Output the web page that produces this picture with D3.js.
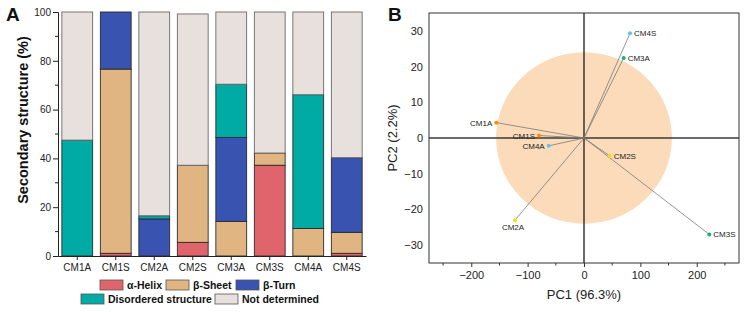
<!DOCTYPE html>
<html>
<head>
<meta charset="utf-8">
<script src="https://cdn.jsdelivr.net/npm/d3@7"></script>
<style>
  html, body { margin: 0; padding: 0; background: #fff; }
  svg { display: block; font-family: "Liberation Sans", Arial, Helvetica, sans-serif; }
</style>
</head>
<body>
<svg id="chart" width="744" height="312"></svg>
<script>
// ---------- DATA: Panel A (stacked bars, %) ----------
const categories = ["CM1A", "CM1S", "CM2A", "CM2S", "CM3A", "CM3S", "CM4A", "CM4S"];
const seriesNames = ["α-Helix", "β-Sheet", "β-Turn", "Disordered structure", "Not determined"];
const alphaHelix   = [0,    1.1,  0,    5.6,  0,    37.2, 0,    1.1];
const betaSheet    = [0,    75.5, 0,    31.6, 14.2, 5.0,  11.3, 8.6];
const betaTurn     = [0,    23.4, 15.2, 0,    34.4, 0,    0,    30.6];
const disordered   = [47.5, 0,    1.3,  0,    21.8, 0,    54.8, 0];
const notDetermined= [52.5, 0,    83.5, 62.0, 29.6, 57.8, 33.9, 59.7];
const yTicksA = [0, 20, 40, 60, 80, 100];

// ---------- DATA: Panel B (PCA biplot) ----------
const pcaLabels = ["CM1A", "CM1S", "CM2A", "CM2S", "CM3A", "CM3S", "CM4A", "CM4S"];
const pc1 = [-155.6, -79.8, -122.4, 45.6, 70.4, 222.3, -62.6, 81.6];
const pc2 = [4.3, 0.7, -23.0, -5.0, 22.4, -27.0, -2.2, 29.3];
const pcaGroup = ["CM1", "CM1", "CM2", "CM2", "CM3", "CM3", "CM4", "CM4"];
const xTicksB = [-200, -100, 0, 100, 200];
const yTicksB = [-30, -20, -10, 0, 10, 20, 30];
const ellipseRadii = [156, 24]; // PC1, PC2 units

// ---------- STYLE ----------
const seriesColors = ["#E0646B", "#E1B581", "#3953B0", "#00ABA6", "#E7E0DD"];
const groupColors = { CM1: "#FF8A00", CM2: "#FFDD00", CM3: "#12B574", CM4: "#5EC6E6" };
const labelSide = { CM1A: "left", CM1S: "left", CM4A: "left", CM2A: "below",
                    CM2S: "right", CM3A: "right", CM3S: "right", CM4S: "right" };

const svg = d3.select("#chart");

// ================= PANEL A =================
const A = { left: 58, right: 366, top: 12, bottom: 256 };
const xA = d3.scaleBand().domain(categories).range([A.left, A.right])
  .paddingInner(0.2).paddingOuter(0.1);
const yA = d3.scaleLinear().domain([0, 100]).range([A.bottom, A.top]);

const rows = categories.map((c, i) => ({
  cat: c,
  "α-Helix": alphaHelix[i],
  "β-Sheet": betaSheet[i],
  "β-Turn": betaTurn[i],
  "Disordered structure": disordered[i],
  "Not determined": notDetermined[i]
}));
const stacked = d3.stack().keys(seriesNames)(rows);

const gA = svg.append("g");
stacked.forEach((layer, li) => {
  gA.append("g").selectAll("rect").data(layer.filter(d => d[1] - d[0] > 0)).join("rect")
    .attr("x", d => xA(d.data.cat))
    .attr("width", xA.bandwidth())
    .attr("y", d => yA(d[1]))
    .attr("height", d => yA(d[0]) - yA(d[1]))
    .attr("fill", seriesColors[li])
    .attr("stroke", li === 4 ? "#6a6a6a" : "#2b2b2b")
    .attr("stroke-width", 0.9);
});

// y axis A
const yAxisA = d3.axisLeft(yA).tickValues(yTicksA).tickSize(5).tickPadding(2);
const gyA = gA.append("g").attr("transform", `translate(${A.left},0)`).call(yAxisA);
gyA.select(".domain").attr("stroke", "#222");
gyA.selectAll(".tick line").attr("stroke", "#222");
gyA.selectAll("text").attr("font-size", 10).attr("fill", "#222");
// minor ticks
gA.append("g").selectAll("line").data(d3.range(10, 100, 20)).join("line")
  .attr("x1", A.left - 3).attr("x2", A.left).attr("y1", d => yA(d)).attr("y2", d => yA(d))
  .attr("stroke", "#222");

// x axis A
const xAxisA = d3.axisBottom(xA).tickSize(4).tickPadding(4).tickSizeOuter(0);
const gxA = gA.append("g").attr("transform", `translate(0,${A.bottom})`).call(xAxisA);
gxA.select(".domain").attr("stroke", "#222");
gxA.selectAll(".tick line").attr("stroke", "#222");
gxA.selectAll("text").attr("font-size", 10).attr("fill", "#222");

// y label A
gA.append("text")
  .attr("transform", `translate(28,120) rotate(-90)`)
  .attr("text-anchor", "middle").attr("font-size", 14.5).attr("font-weight", "bold")
  .attr("fill", "#111").text("Secondary structure (%)");

// panel letter
svg.append("text").attr("x", 6).attr("y", 21).attr("font-size", 19)
  .attr("font-weight", "bold").attr("fill", "#111").text("A");

// legend A
const legendLayout = [
  { x: 100, y: 280 }, { x: 166, y: 280 }, { x: 236, y: 280 },
  { x: 81, y: 294 }, { x: 215, y: 294 }
];
const gL = gA.append("g");
seriesNames.forEach((name, i) => {
  const p = legendLayout[i];
  gL.append("rect").attr("x", p.x).attr("y", p.y).attr("width", 23).attr("height", 10)
    .attr("fill", seriesColors[i]).attr("stroke", "#555").attr("stroke-width", 0.8);
  gL.append("text").attr("x", p.x + 27).attr("y", p.y + 9)
    .attr("font-size", 10.5).attr("font-weight", "bold").attr("fill", "#111").text(name);
});

// ================= PANEL B =================
const B = { left: 429, right: 739, top: 13, bottom: 263 };
const xB = d3.scaleLinear().domain([-275, 275]).range([B.left, B.right]);
const yB = d3.scaleLinear().domain([-35, 35]).range([B.bottom, B.top]);
const gB = svg.append("g");

// ellipse
gB.append("ellipse")
  .attr("cx", xB(0)).attr("cy", yB(0))
  .attr("rx", xB(ellipseRadii[0]) - xB(0))
  .attr("ry", yB(0) - yB(ellipseRadii[1]))
  .attr("fill", "#FCDBBA");

// zero lines
gB.append("line").attr("x1", xB(0)).attr("x2", xB(0)).attr("y1", B.top).attr("y2", B.bottom)
  .attr("stroke", "#2a2a2a").attr("stroke-width", 1.4);
gB.append("line").attr("x1", B.left).attr("x2", B.right).attr("y1", yB(0)).attr("y2", yB(0))
  .attr("stroke", "#3a3a3a").attr("stroke-width", 1.4);

// vectors
const pts = pcaLabels.map((l, i) => ({ label: l, x: pc1[i], y: pc2[i], g: pcaGroup[i] }));
gB.append("g").selectAll("line").data(pts).join("line")
  .attr("x1", xB(0)).attr("y1", yB(0))
  .attr("x2", d => xB(d.x)).attr("y2", d => yB(d.y))
  .attr("stroke", "#7a7a7a").attr("stroke-width", 0.8);

gB.append("g").selectAll("circle").data(pts).join("circle")
  .attr("cx", d => xB(d.x)).attr("cy", d => yB(d.y)).attr("r", 2)
  .attr("fill", d => groupColors[d.g]);

gB.append("g").selectAll("text").data(pts).join("text")
  .attr("x", d => {
    const s = labelSide[d.label];
    return xB(d.x) + (s === "right" ? 4 : s === "left" ? -4 : -2);
  })
  .attr("y", d => yB(d.y) + (labelSide[d.label] === "below" ? 10 : 3))
  .attr("text-anchor", d => labelSide[d.label] === "right" ? "start" :
                            labelSide[d.label] === "left" ? "end" : "middle")
  .attr("font-size", 8).attr("fill", "#222").text(d => d.label);

// frame
gB.append("rect").attr("x", B.left).attr("y", B.top)
  .attr("width", B.right - B.left).attr("height", B.bottom - B.top)
  .attr("fill", "none").attr("stroke", "#333").attr("stroke-width", 1);

// axes B
const fmtMinus = d => d < 0 ? "\u2212" + Math.abs(d) : String(d);
const gxB = gB.append("g").attr("transform", `translate(0,${B.bottom})`)
  .call(d3.axisBottom(xB).tickValues(xTicksB).tickSize(4).tickPadding(4).tickFormat(fmtMinus));
gxB.select(".domain").remove();
gxB.selectAll(".tick line").attr("stroke", "#333");
gxB.selectAll("text").attr("font-size", 11).attr("fill", "#222");
gB.append("g").selectAll("line").data([-250, -150, -50, 50, 150, 250]).join("line")
  .attr("x1", d => xB(d)).attr("x2", d => xB(d)).attr("y1", B.bottom).attr("y2", B.bottom + 2.5)
  .attr("stroke", "#333");

const gyB = gB.append("g").attr("transform", `translate(${B.left},0)`)
  .call(d3.axisLeft(yB).tickValues(yTicksB).tickSize(0).tickPadding(6).tickFormat(fmtMinus));
gyB.select(".domain").remove();
gyB.selectAll("text").attr("font-size", 11).attr("fill", "#222");

gB.append("text").attr("x", xB(0)).attr("y", 299).attr("text-anchor", "middle")
  .attr("font-size", 13).attr("fill", "#222").text("PC1 (96.3%)");
gB.append("text")
  .attr("transform", `translate(397,${yB(0)}) rotate(-90)`)
  .attr("text-anchor", "middle").attr("font-size", 13).attr("fill", "#222").text("PC2 (2.2%)");

svg.append("text").attr("x", 388).attr("y", 21).attr("font-size", 19)
  .attr("font-weight", "bold").attr("fill", "#111").text("B");
</script>
</body>
</html>
